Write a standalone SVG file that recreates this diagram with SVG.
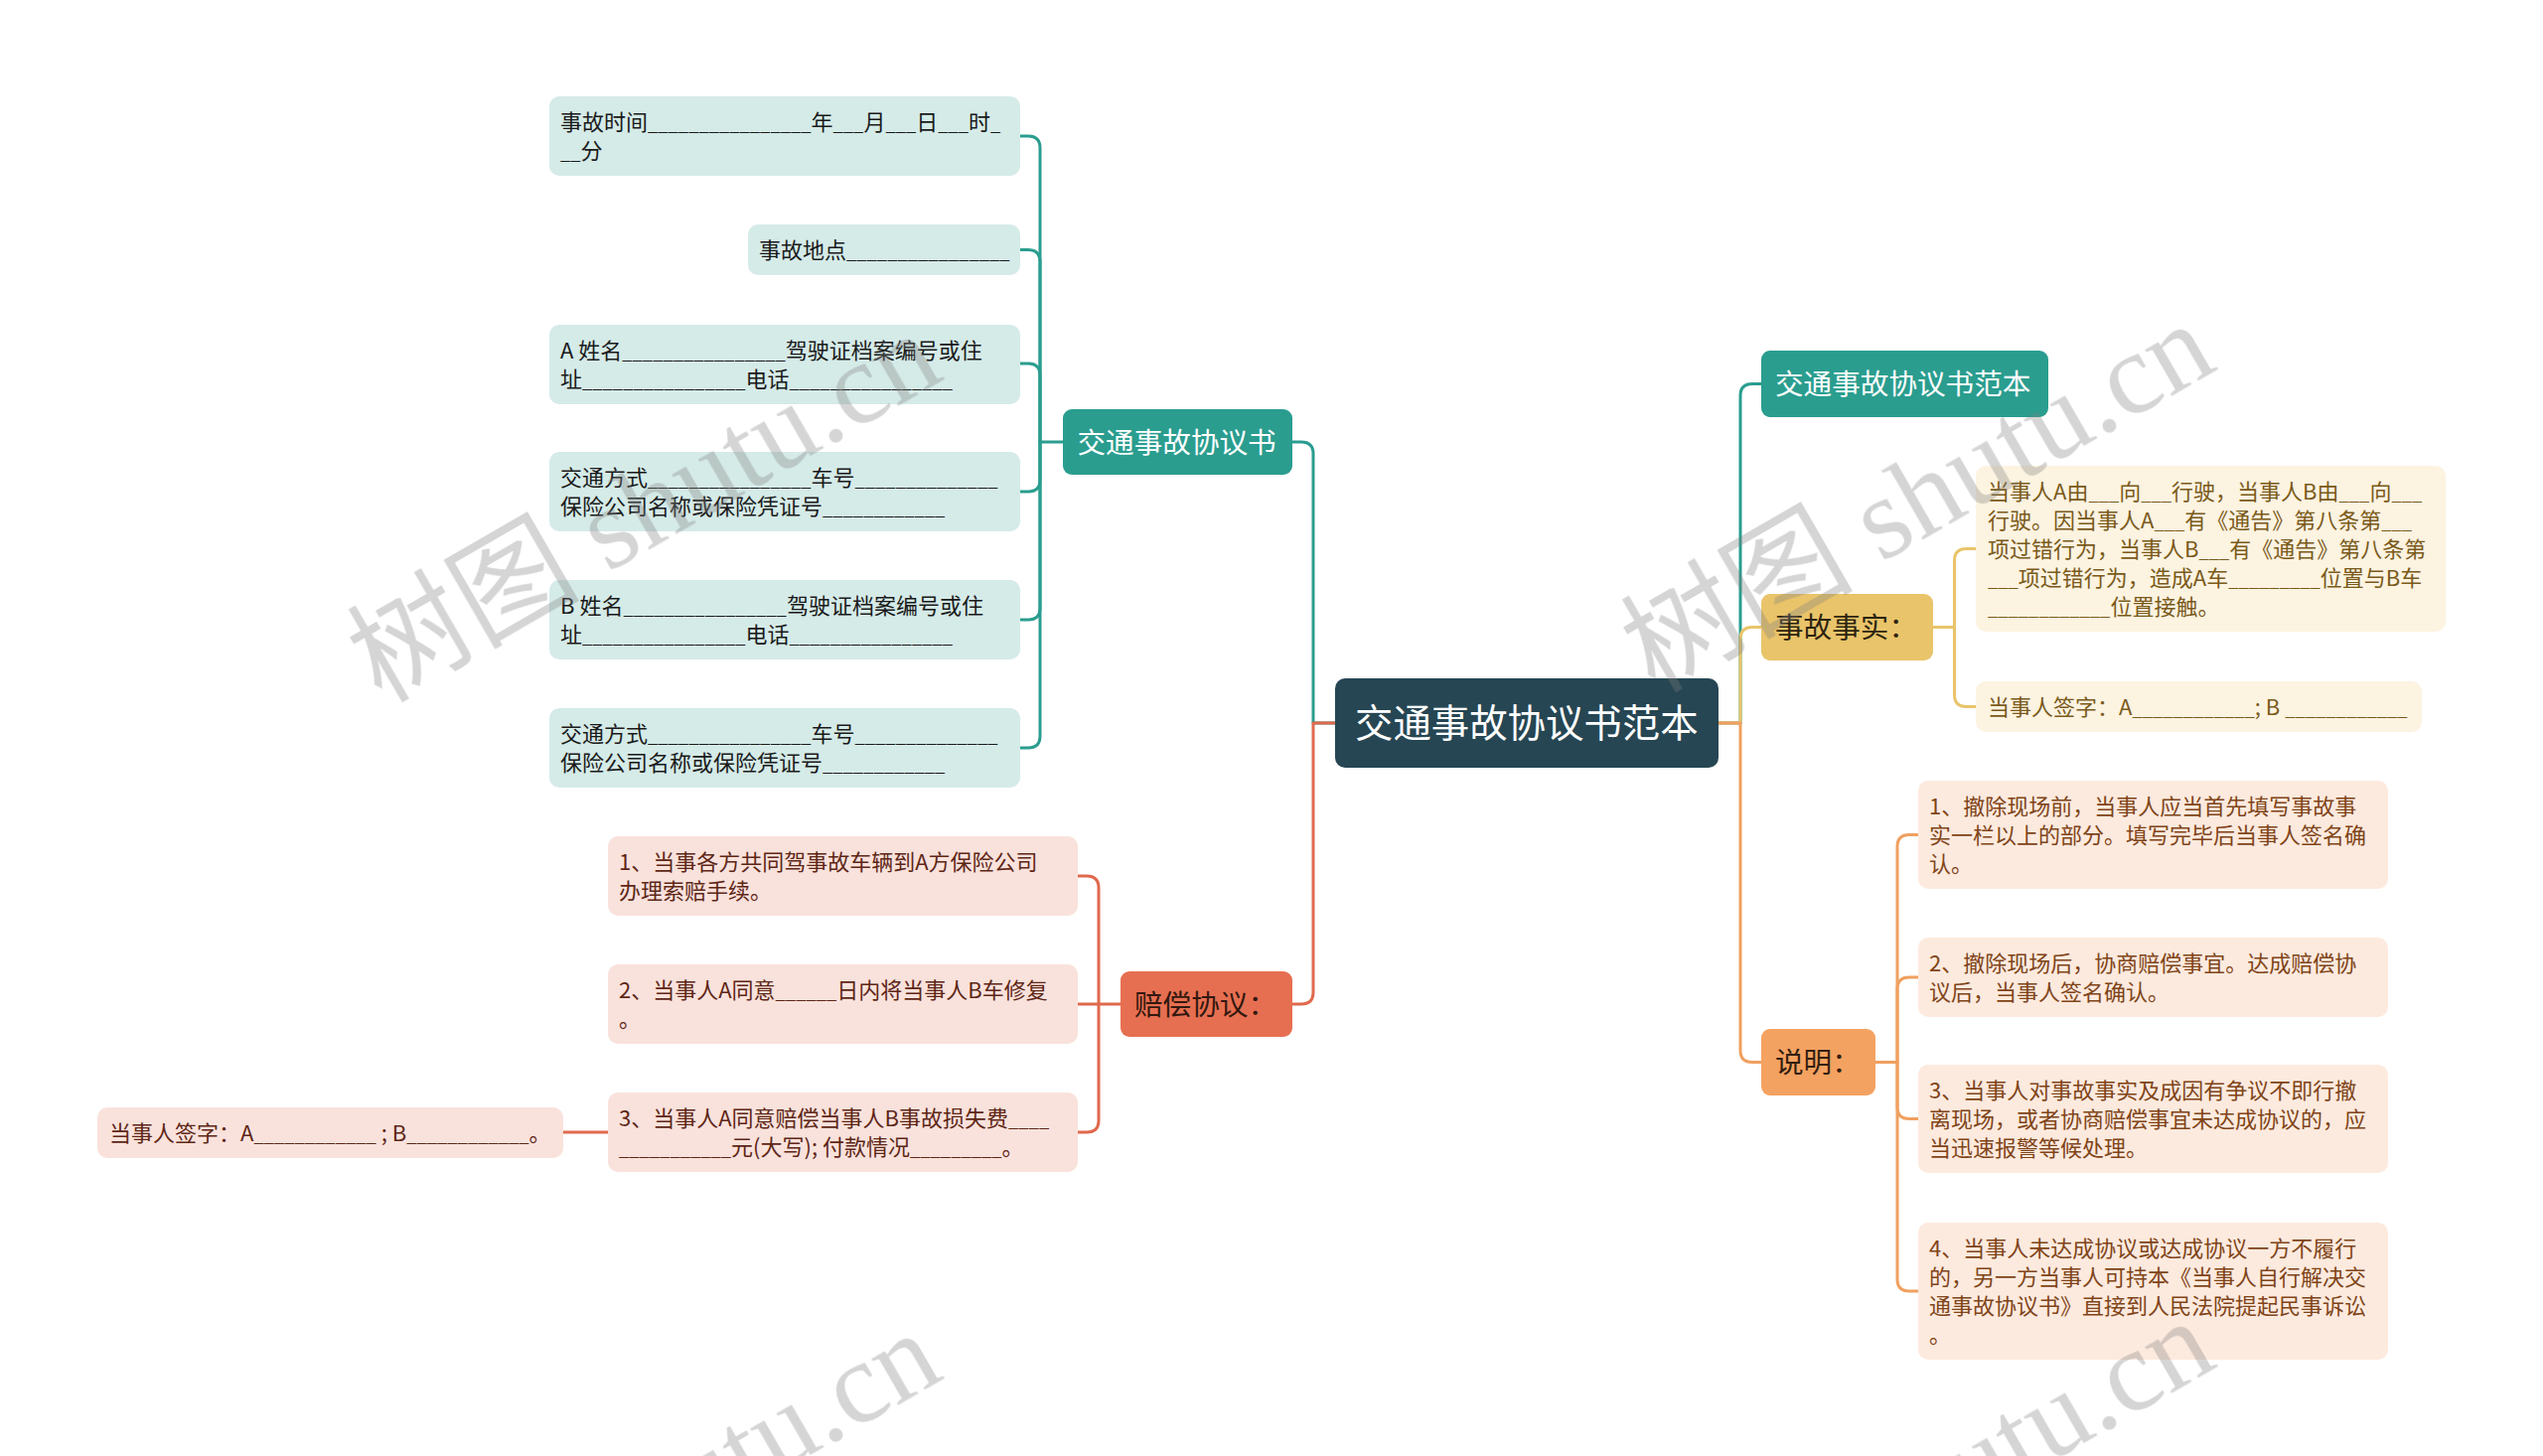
<svg xmlns="http://www.w3.org/2000/svg" width="2560" height="1466" viewBox="0 0 2560 1466">
<style>
text{font-family:"Noto Sans CJK SC","Noto Sans",sans-serif}
.lf{font-size:22px}
.u{font-size:18.4px}
.t{fill:#1a1a1a}
.p{fill:#5e2616}
.c{fill:#7a5a1a}
.o{fill:#7f4418}
.mn{font-size:28.6px}
.w{fill:#ffffff}
.con{fill:none;stroke-width:3;stroke-linecap:round;stroke-linejoin:round}
.wm{fill:#7f7f7f;opacity:0.33}
.wmc{font-family:"Noto Sans CJK SC",sans-serif}
.wml{font-family:"Liberation Serif",serif}
</style>
<rect width="2560" height="1466" fill="#ffffff"/>
<g id="connectors">
<g stroke="#2a9d8f" class="con">
<path d="M1344 728 H1322 V457 Q1322 445 1310 445 H1301"/>
<path d="M1070 445 H1047 V149 Q1047 137 1035 137 H1027"/>
<path d="M1047 445 V263.5 Q1047 251.5 1035 251.5 H1027"/>
<path d="M1047 445 V378 Q1047 366 1035 366 H1027"/>
<path d="M1047 445 V483 Q1047 495 1035 495 H1027"/>
<path d="M1047 445 V612 Q1047 624 1035 624 H1027"/>
<path d="M1047 445 V741 Q1047 753 1035 753 H1027"/>
<path d="M1730 728 H1752 V398.5 Q1752 386.5 1764 386.5 H1773"/>
</g>
<g stroke="#e0694d" class="con">
<path d="M1344 728 H1322 V999 Q1322 1011 1310 1011 H1301"/>
<path d="M1128 1011 H1106 V894 Q1106 882 1094 882 H1085"/>
<path d="M1106 1011 H1085"/>
<path d="M1106 1011 V1128 Q1106 1140 1094 1140 H1085"/>
<path d="M612 1140 H567"/>
</g>
<g stroke="#e9c46a" class="con">
<path d="M1730 728 H1752 V643.5 Q1752 631.5 1764 631.5 H1773"/>
<path d="M1946 631.5 H1967.5 V564.5 Q1967.5 552.5 1979.5 552.5 H1989"/>
<path d="M1967.5 631.5 V699.5 Q1967.5 711.5 1979.5 711.5 H1989"/>
</g>
<g stroke="#f0a060" class="con">
<path d="M1730 728 H1752 V1057.5 Q1752 1069.5 1764 1069.5 H1773"/>
<path d="M1888 1069.5 H1910 V852.5 Q1910 840.5 1922 840.5 H1931"/>
<path d="M1910 1069.5 V996 Q1910 984 1922 984 H1931"/>
<path d="M1910 1069.5 V1114.5 Q1910 1126.5 1922 1126.5 H1931"/>
<path d="M1910 1069.5 V1288 Q1910 1300 1922 1300 H1931"/>
</g>
</g>
<g id="root">
<rect x="1344" y="683" width="386" height="90" rx="10" fill="#264653"/>
<text x="1364" y="742" class="w" style="font-size:38.4px">交通事故协议书范本</text>
</g>
<g id="n-xieyishu">
<rect x="1070" y="412" width="231" height="66" rx="9" fill="#2a9d8f"/>
<text x="1084.5" y="455.5" class="mn w">交通事故协议书</text>
</g>
<g id="t1"><rect x="553" y="97" width="474" height="80" rx="10" fill="#d5ebe8"/>
<text class="lf t" x="564" y="130.5">事故时间<tspan class="u">________________</tspan>年<tspan class="u">___</tspan>月<tspan class="u">___</tspan>日<tspan class="u">___</tspan>时<tspan class="u">_</tspan></text>
<text class="lf t" x="564" y="159.5"><tspan class="u">__</tspan>分</text></g>
<g id="t2"><rect x="753" y="226" width="274" height="51" rx="10" fill="#d5ebe8"/>
<text class="lf t" x="764" y="259.5">事故地点<tspan class="u">________________</tspan></text></g>
<g id="t3"><rect x="553" y="327" width="474" height="80" rx="10" fill="#d5ebe8"/>
<text class="lf t" x="564" y="360.5">A 姓名<tspan class="u">________________</tspan>驾驶证档案编号或住</text>
<text class="lf t" x="564" y="389.5">址<tspan class="u">________________</tspan>电话<tspan class="u">________________</tspan></text></g>
<g id="t4"><rect x="553" y="455" width="474" height="80" rx="10" fill="#d5ebe8"/>
<text class="lf t" x="564" y="488.5">交通方式<tspan class="u">________________</tspan>车号<tspan class="u">______________</tspan></text>
<text class="lf t" x="564" y="517.5">保险公司名称或保险凭证号<tspan class="u">____________</tspan></text></g>
<g id="t5"><rect x="553" y="584" width="474" height="80" rx="10" fill="#d5ebe8"/>
<text class="lf t" x="564" y="617.5">B 姓名<tspan class="u">________________</tspan>驾驶证档案编号或住</text>
<text class="lf t" x="564" y="646.5">址<tspan class="u">________________</tspan>电话<tspan class="u">________________</tspan></text></g>
<g id="t6"><rect x="553" y="713" width="474" height="80" rx="10" fill="#d5ebe8"/>
<text class="lf t" x="564" y="746.5">交通方式<tspan class="u">________________</tspan>车号<tspan class="u">______________</tspan></text>
<text class="lf t" x="564" y="775.5">保险公司名称或保险凭证号<tspan class="u">____________</tspan></text></g>
<g id="n-peichang">
<rect x="1128" y="978" width="173" height="66" rx="9" fill="#e76f51"/>
<text x="1142" y="1021.5" class="mn" fill="#33180f">赔偿协议：</text>
</g>
<g id="p1"><rect x="612" y="842" width="473" height="80" rx="10" fill="#f9e2dc"/>
<text class="lf p" x="623" y="875.5">1、当事各方共同驾事故车辆到A方保险公司</text>
<text class="lf p" x="623" y="904.5">办理索赔手续。</text></g>
<g id="p2"><rect x="612" y="971" width="473" height="80" rx="10" fill="#f9e2dc"/>
<text class="lf p" x="623" y="1004.5">2、当事人A同意<tspan class="u">______</tspan>日内将当事人B车修复</text>
<text class="lf p" x="623" y="1033.5">。</text></g>
<g id="p3"><rect x="612" y="1100" width="473" height="80" rx="10" fill="#f9e2dc"/>
<text class="lf p" x="623" y="1133.5">3、当事人A同意赔偿当事人B事故损失费<tspan class="u">____</tspan></text>
<text class="lf p" x="623" y="1162.5"><tspan class="u">___________</tspan>元(大写); 付款情况<tspan class="u">_________</tspan>。</text></g>
<g id="p4"><rect x="98" y="1115" width="469" height="51" rx="10" fill="#f9e2dc"/>
<text class="lf p" x="110" y="1148.5">当事人签字：A<tspan class="u">____________</tspan> ; B<tspan class="u">____________</tspan>。</text></g>
<g id="n-fanben">
<rect x="1773" y="353" width="289" height="67" rx="9" fill="#2a9d8f"/>
<text x="1787" y="397" class="mn w">交通事故协议书范本</text>
</g>
<g id="n-shishi">
<rect x="1773" y="598" width="173" height="67" rx="9" fill="#e9c46a"/>
<text x="1787" y="642" class="mn" fill="#2e2410">事故事实：</text>
</g>
<g id="c1"><rect x="1989" y="469" width="473" height="167" rx="10" fill="#fcf3e1"/>
<text class="lf c" x="2001" y="502.5">当事人A由<tspan class="u">___</tspan>向<tspan class="u">___</tspan>行驶，当事人B由<tspan class="u">___</tspan>向<tspan class="u">___</tspan></text>
<text class="lf c" x="2001" y="531.5">行驶。因当事人A<tspan class="u">___</tspan>有《通告》第八条第<tspan class="u">___</tspan></text>
<text class="lf c" x="2001" y="560.5">项过错行为，当事人B<tspan class="u">___</tspan>有《通告》第八条第</text>
<text class="lf c" x="2001" y="589.5"><tspan class="u">___</tspan>项过错行为，造成A车<tspan class="u">_________</tspan>位置与B车</text>
<text class="lf c" x="2001" y="618.5"><tspan class="u">____________</tspan>位置接触。</text></g>
<g id="c2"><rect x="1989" y="686" width="449" height="51" rx="10" fill="#fcf3e1"/>
<text class="lf c" x="2001" y="719.5">当事人签字：A<tspan class="u">____________</tspan>; B <tspan class="u">____________</tspan></text></g>
<g id="n-shuoming">
<rect x="1773" y="1036" width="115" height="67" rx="9" fill="#f4a261"/>
<text x="1787" y="1080" class="mn" fill="#33200f">说明：</text>
</g>
<g id="o1"><rect x="1931" y="786" width="473" height="109" rx="10" fill="#fdeade"/>
<text class="lf o" x="1942" y="819.5">1、撤除现场前，当事人应当首先填写事故事</text>
<text class="lf o" x="1942" y="848.5">实一栏以上的部分。填写完毕后当事人签名确</text>
<text class="lf o" x="1942" y="877.5">认。</text></g>
<g id="o2"><rect x="1931" y="944" width="473" height="80" rx="10" fill="#fdeade"/>
<text class="lf o" x="1942" y="977.5">2、撤除现场后，协商赔偿事宜。达成赔偿协</text>
<text class="lf o" x="1942" y="1006.5">议后，当事人签名确认。</text></g>
<g id="o3"><rect x="1931" y="1072" width="473" height="109" rx="10" fill="#fdeade"/>
<text class="lf o" x="1942" y="1105.5">3、当事人对事故事实及成因有争议不即行撤</text>
<text class="lf o" x="1942" y="1134.5">离现场，或者协商赔偿事宜未达成协议的，应</text>
<text class="lf o" x="1942" y="1163.5">当迅速报警等候处理。</text></g>
<g id="o4"><rect x="1931" y="1231" width="473" height="138" rx="10" fill="#fdeade"/>
<text class="lf o" x="1942" y="1264.5">4、当事人未达成协议或达成协议一方不履行</text>
<text class="lf o" x="1942" y="1293.5">的，另一方当事人可持本《当事人自行解决交</text>
<text class="lf o" x="1942" y="1322.5">通事故协议书》直接到人民法院提起民事诉讼</text>
<text class="lf o" x="1942" y="1351.5">。</text></g>
<g id="watermarks" class="wm">
<text transform="translate(655 522) rotate(-30)" y="26" text-anchor="middle" style="font-size:117px"><tspan class="wmc">树图</tspan><tspan class="wml"> shutu.cn</tspan></text>
<text transform="translate(1937 512) rotate(-30)" y="26" text-anchor="middle" style="font-size:117px"><tspan class="wmc">树图</tspan><tspan class="wml"> shutu.cn</tspan></text>
<text transform="translate(655 1528) rotate(-30)" y="26" text-anchor="middle" style="font-size:117px"><tspan class="wmc">树图</tspan><tspan class="wml"> shutu.cn</tspan></text>
<text transform="translate(1937 1516) rotate(-30)" y="26" text-anchor="middle" style="font-size:117px"><tspan class="wmc">树图</tspan><tspan class="wml"> shutu.cn</tspan></text>
</g>
</svg>
